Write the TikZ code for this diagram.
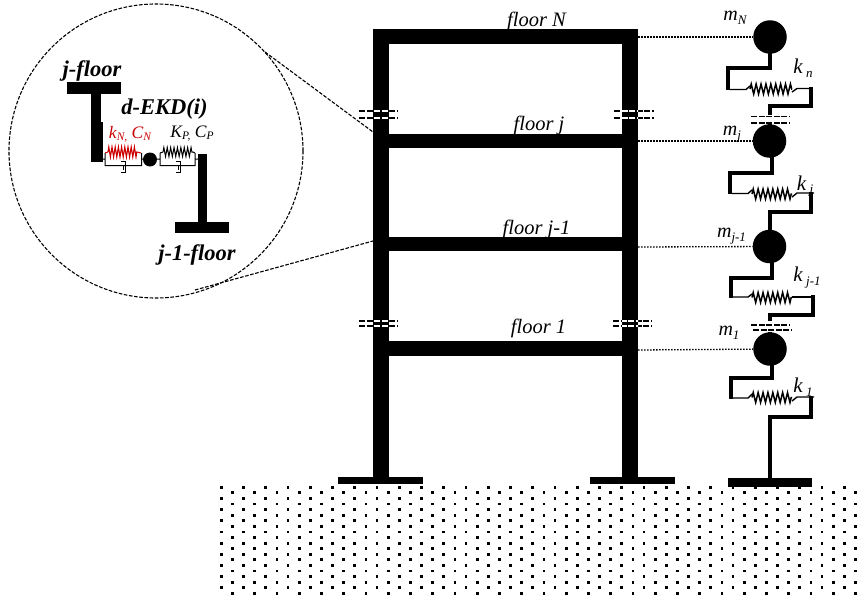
\documentclass[tikz,border=0pt]{standalone}
\usepackage{fontspec}
\setmainfont{Liberation Serif}
\usetikzlibrary{decorations.pathmorphing,calc}
\tikzset{
  blk/.style={fill=black,draw=none},
  stem/.style={line width=4pt,line join=miter,line cap=butt},
  thinl/.style={line width=1.4pt},
  spring/.style={line width=1.5pt,decorate,decoration={zigzag,segment length=4.9pt,amplitude=5pt}},
  springb/.style={line width=1pt,decorate,decoration={zigzag,segment length=3.4pt,amplitude=4.5pt}},
  mass/.style={circle,fill=black,draw=none,inner sep=0pt,minimum size=33.5pt},
  brk/.style={line width=1.1pt,dash pattern=on 6pt off 1.6pt},
  brkw/.style={line width=1.1pt,white,dash pattern=on 6pt off 1.6pt},
  dotted1/.style={line width=1.3pt,dash pattern=on 1.5pt off 1.5pt},
  zoomline/.style={line width=1.1pt,dash pattern=on 3.6pt off 1.6pt},
  mlab/.style={inner sep=0pt,font=\fontsize{20}{20}\selectfont\itshape},
  klab/.style={inner sep=0pt,font=\fontsize{21}{20}\selectfont\itshape},
  flab/.style={inner sep=0pt,font=\fontsize{20.5}{20}\selectfont\itshape},
  blab/.style={inner sep=0pt,font=\fontsize{22.5}{22}\selectfont\bfseries\itshape},
  dlab/.style={inner sep=0pt,font=\fontsize{17.5}{17}\selectfont\itshape},
}
\newcommand{\subs}[1]{\raisebox{-3.5pt}{\fontsize{13}{13}\selectfont #1}}
\newcommand{\subd}[1]{\raisebox{-2.5pt}{\fontsize{11.5}{11.5}\selectfont #1}}
\begin{document}
\begin{tikzpicture}[x=1pt,y=-1pt]
\useasboundingbox (0,0) rectangle (865,597);
% ground dots
\foreach \r in {0,...,19}{
  \pgfmathsetmacro{\yy}{487.3+5.58*\r}
  \pgfmathsetmacro{\off}{mod(\r,2)*11.2}
  \foreach \c in {0,...,28}{
    \pgfmathsetmacro{\xx}{221.3+\off+22.25*\c}
    \fill (\xx-1.4,\yy-1.4) rectangle (\xx+1.4,\yy+1.4);
  }
}
% frame
\fill[blk] (373,29) rectangle (389,477);
\fill[blk] (622,29) rectangle (638,477);
\fill[blk] (373,29) rectangle (638,44);
\fill[blk] (373,134) rectangle (638,148);
\fill[blk] (373,237) rectangle (638,251);
\fill[blk] (373,341) rectangle (638,356);
\fill[blk] (338,477) rectangle (423,484);
\fill[blk] (590,477) rectangle (675,484);
\fill[blk] (728,478) rectangle (812,487);
% break marks
\foreach \xa/\xb/\ca/\cb/\ya/\yb in {359/398/373/389/111/118, 614/654/622/638/111/118, 359/398/373/389/321/326, 613/652/622/638/321/326}{
  \draw[brk] (\xa,\ya) -- (\xb,\ya);
  \draw[brk] (\xa,\yb) -- (\xb,\yb);
  \begin{scope}
    \clip (\ca,100) rectangle (\cb,340);
    \draw[brkw] (\xa,\ya) -- (\xb,\ya);
    \draw[brkw] (\xa,\yb) -- (\xb,\yb);
  \end{scope}
}
% floor labels
\node[flab] (fN) at (536.5,21) {floor N};
\node[flab] (fJ) at (539,125) {floor j};
\node[flab] (fJ1) at (536.5,229.5) {floor j-1};
\node[flab] (f1) at (538.5,328.5) {floor 1};
% masses
\node[mass] (mN) at (770,37) {};
\node[mass] (mJ) at (769.5,141) {};
\node[mass] (mJ1) at (769.5,246.5) {};
\node[mass] (m1) at (770,349) {};
\coordinate (cN) at (638,37);
\coordinate (cJ) at (638,141);
\coordinate (cJ1) at (638,247);
\coordinate (c1) at (638,350);
\draw[dotted1] (cN) -- (mN);
\draw[dotted1] (cJ) -- (mJ);
\draw[dotted1] (cJ1) -- (mJ1);
\draw[dotted1] (c1) -- (m1);
% spring stages
\draw[stem] (770,37) -- (770,68) -- (728,68) -- (728,90);
\draw[thinl] (729,89.5) -- (746,89.5) -- (750,86);
\draw[spring] (750,89) -- (792,89);
\draw[thinl] (792,92) -- (797,88.5) -- (811,88.5);
\draw[stem] (811,87) -- (811,106) -- (770,106) -- (770,115);
\draw[brk] (751,116.5) -- (790,116.5);
\draw[brk] (751,123) -- (790,123);
\draw[stem] (770,123) -- (770,141);

\draw[stem] (772,141) -- (772,173) -- (730,173) -- (730,194);
\draw[thinl] (731,193.5) -- (748,193.5) -- (752,190);
\draw[spring] (752,194) -- (792,194);
\draw[thinl] (792,197) -- (797,193) -- (814,193);
\draw[stem] (811,192) -- (811,212) -- (770,212) -- (770,246);

\draw[stem] (772,246) -- (772,278) -- (731,278) -- (731,298);
\draw[thinl] (732,297) -- (748,297) -- (752,294);
\draw[spring] (752,297.5) -- (792,297.5);
\draw[thinl] (792,297) -- (813,297);
\draw[stem] (813,295) -- (813,315) -- (770,315) -- (770,321);
\draw[brk] (751,325) -- (790,325);
\draw[brk] (753,330) -- (792,330);
\draw[stem] (770,332) -- (770,349);

\draw[stem] (772,349) -- (772,378) -- (731,378) -- (731,399);
\draw[thinl] (732,398) -- (748,398) -- (752,394);
\draw[spring] (752,397.5) -- (792,397.5);
\draw[thinl] (792,401) -- (797,397) -- (814,397);
\draw[stem] (811,396) -- (811,417) -- (770,417) -- (770,478);
% spring labels
\node[mlab] (lmN) at (735,18) {m\subs{N}};
\node[klab] (lkn) at (803,68) {k\,\subs{n}};
\node[mlab] (lmj) at (732,134) {m\subs{j}};
\node[klab] (lkj) at (805,186) {k\,\subs{j}};
\node[mlab] (lmj1) at (731.5,236) {m\subs{j-1}};
\node[klab] (lkj1) at (807,277.5) {k\,\subs{j-1}};
\node[mlab] (lm1) at (729,333) {m\subs{1}};
\node[klab] (lk1) at (803,387) {k\,\subs{1}};
% detail circle
\node[circle,draw,zoomline,inner sep=0pt,minimum size=294pt] (detail) at (156,151) {};
\coordinate (za) at (373,132);
\coordinate (zb) at (373,241);
\coordinate (ta) at (265,52);
\coordinate (tb) at (195,290);
\draw[zoomline] (ta) -- (za);
\draw[zoomline] (tb) -- (zb);
% inset structure
\fill[blk] (67,82) rectangle (121,94);
\fill[blk] (91,94) rectangle (101,162);
\fill[blk] (101,122) rectangle (103,162);
\fill[blk] (198,154) rectangle (207,222);
\fill[blk] (175,222) rectangle (229,233);
\node[circle,fill=black,inner sep=0pt,minimum size=14pt] (ball) at (150,159.5) {};
% red unit
\draw[spring,red!80!black,line width=1.1pt,decoration={zigzag,segment length=3.2pt,amplitude=5pt}] (108,152) -- (137,152);
\draw[red!80!black,line width=1pt] (105,153) -- (108,152) (137,152) -- (141,153);
\draw[line width=1pt] (103,159) -- (105,159) (105,153) -- (105,165.5) -- (141.5,165.5) -- (141.5,153) (141.5,159) -- (ball);
\draw[line width=1pt] (120.5,161.5) -- (125,161.5) -- (125,172.5) -- (120.5,172.5) (123,165.5) -- (123,170);
% black unit
\draw[springb] (163,152) -- (193,152);
\draw[line width=1pt] (160,153) -- (163,152) (193,152) -- (195,153);
\draw[line width=1pt] (ball) -- (160,159) (160,153) -- (160,165.5) -- (195,165.5) -- (195,153) (195,159) -- (198,159);
\draw[line width=1pt] (175.5,161.5) -- (180,161.5) -- (180,172.5) -- (175.5,172.5) (178,165.5) -- (178,170);
% inset labels
\node[blab] (ljf) at (92,71) {j-floor};
\node[blab] (lekd) at (164.5,109) {d-EKD(i)};
\node[blab] (lj1f) at (197,255) {j-1-floor};
\node[dlab,text=red!80!black] (lkc) at (130,134.5) {k\subd{N,} C\subd{N}};
\node[dlab] (lkp) at (192,133.5) {K\subd{P,} C\subd{P}};
\end{tikzpicture}
\end{document}
